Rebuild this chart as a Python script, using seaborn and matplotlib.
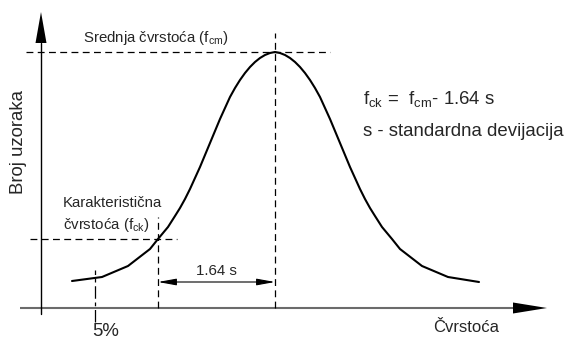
import matplotlib
matplotlib.use("Agg")
import matplotlib.pyplot as plt
import seaborn as sns
from matplotlib import font_manager

# Krivulja raspodjele (vrijednosti ocitane sa slike; x = cvrstoca, y = broj uzoraka)
cvrstoca = [31, 61, 87, 109, 117, 127, 134, 139, 144, 149, 154, 159, 164, 169,
            174, 179, 184, 189, 194, 199, 204, 209, 214, 219, 224, 229, 234,
            239, 244, 249, 254, 259, 264, 269, 274, 279, 284, 289, 294, 299,
            304, 309, 314, 319, 324, 329, 334, 341, 351, 359, 381, 407, 438]
broj_uzoraka = [27, 31, 42, 59, 69, 81, 92, 100, 109, 119, 130, 141, 153, 165,
                177, 189, 200, 211, 220, 228, 235, 241, 246, 250, 253, 255, 256,
                255, 253, 250, 246, 241, 235, 228, 220, 211, 200, 189, 177, 165,
                153, 141, 130, 119, 109, 100, 92, 81, 69, 59, 42, 31, 26]

f_cm = 234      # srednja cvrstoca
f_ck = 117      # karakteristicna cvrstoca
y_ck = 69       # broj uzoraka kod f_ck
f_5 = 54        # granica 5%
y_max = 256

sns.set_theme(style="white")

# Arial Narrow-like font ako postoji
try:
    font_manager.findfont("Liberation Sans Narrow", fallback_to_default=False)
    obitelj = "Liberation Sans Narrow"
    veliki, mali, os_x = 16.0, 13.0, 14.5
except ValueError:
    obitelj = "Liberation Sans"
    veliki, mali, os_x = 13.4, 10.8, 12.0

plt.rcParams["font.family"] = [obitelj, "DejaVu Sans"]
plt.rcParams["mathtext.fontset"] = "custom"
plt.rcParams["mathtext.rm"] = obitelj

fig = plt.figure(figsize=(5.68, 3.38), dpi=100)
ax = fig.add_axes([0, 0, 1, 1])
ax.set_xlim(-41, 527)
ax.set_ylim(-30, 308)
ax.axis("off")

# osi sa strelicama
ax.plot([-21, 472], [0, 0], color="#6b6b6b", lw=1.5, solid_capstyle="butt")
ax.fill([472, 472, 506], [-5.5, 5.5, 0], color="black", lw=0)
ax.plot([0, 0], [-6, 265], color="black", lw=1.0)
ax.fill([-5.5, 5.5, 0], [265, 265, 296], color="black", lw=0)

# isprekidane linije
crtkano = dict(color="black", lw=0.9, linestyle=(0, (5.5, 3.5)))
ax.plot([-15, f_cm + 55], [y_max, y_max], **crtkano)
ax.plot([f_cm, f_cm], [0, y_max + 19], **crtkano)
ax.plot([-11, f_ck + 19], [y_ck, y_ck], **crtkano)
ax.plot([f_ck, f_ck], [0, y_ck + 22], **crtkano)
ax.plot([f_5, f_5], [-14, 38], color="black", lw=0.9, linestyle=(0, (10, 3, 3, 3)))

# krivulja
sns.lineplot(x=cvrstoca, y=broj_uzoraka, color="black", lw=1.5, sort=False, ax=ax)

# kota 1.64 s
ax.annotate("", xy=(f_ck, 26), xytext=(f_cm, 26),
            arrowprops=dict(arrowstyle="<|-|>,head_length=1.1,head_width=0.2",
                            color="black", lw=0.8, shrinkA=0, shrinkB=0,
                            mutation_scale=10))
ax.text((f_ck + f_cm) / 2, 37, "1.64 s", fontsize=mali, ha="center", va="center")

# natpisi
ax.text(115, 270, r"Srednja čvrstoća (f$_{\mathrm{cm}}$)", fontsize=mali,
        ha="center", va="center")
ax.text(22, 105, "Karakteristična", fontsize=mali, ha="left", va="center")
ax.text(22, 83, r"čvrstoća (f$_{\mathrm{ck}}$)", fontsize=mali, ha="left", va="center")
ax.text(-22, 166, "Broj uzoraka", fontsize=veliki, rotation=90,
        ha="center", va="center")
ax.text(322, 208, r"f$_{\mathrm{ck}}$ =  f$_{\mathrm{cm}}$- 1.64 s", fontsize=veliki,
        ha="left", va="center")
ax.text(322, 176, "s - standardna devijacija", fontsize=veliki, ha="left", va="center")
ax.text(51, -23, "5%", fontsize=veliki, ha="left", va="center")
ax.text(392, -19, "Čvrstoća", fontsize=os_x, ha="left", va="center")

fig.savefig("out.png", dpi=100)
